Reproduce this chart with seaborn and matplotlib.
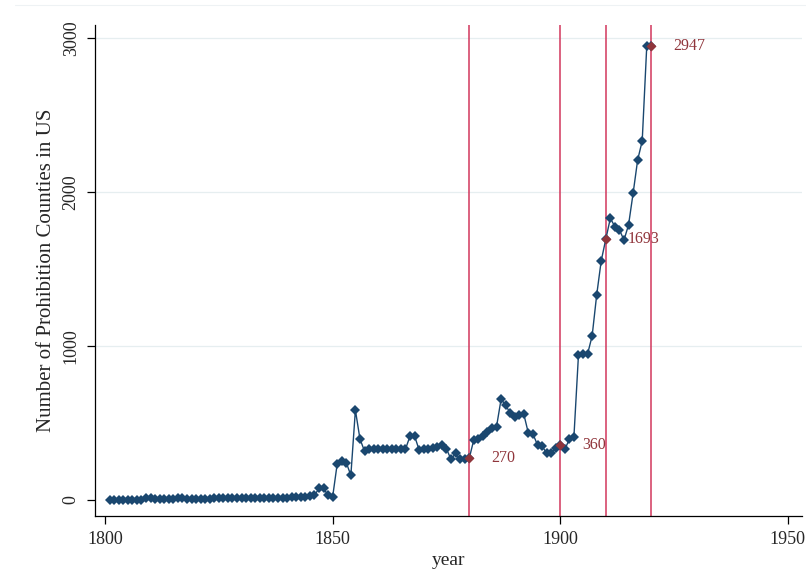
import numpy as np
import pandas as pd
import matplotlib
matplotlib.use("Agg")
import matplotlib.pyplot as plt
from matplotlib.lines import Line2D
import seaborn as sns

# Number of prohibition ("dry") counties in the US, 1801-1920
years = list(range(1801, 1921))
counties = [
    # 1801-1846
    2, 2, 2, 2, 2, 2, 2, 2, 15, 15,
    5, 5, 5, 5, 5, 12, 12, 5, 5, 5,
    8, 8, 8, 10, 10, 10, 10, 10, 10, 10,
    10, 10, 12, 15, 15, 15, 15, 15, 15, 15,
    18, 20, 20, 22, 25, 30,
    # 1847-1857
    75, 75, 30, 20, 234, 255, 242, 160, 584, 396, 318,
    # 1858-1868
    330, 330, 330, 330, 330, 330, 330, 330, 330, 415, 415,
    # 1869-1880
    325, 332, 332, 335, 345, 357, 332, 264, 303, 264, 264, 270,
    # 1881-1900
    390, 394, 416, 444, 465, 476, 654, 617, 563, 541,
    552, 556, 433, 429, 357, 351, 303, 307, 336, 360,
    # 1901-1920
    329, 394, 411, 942, 948, 948, 1065, 1331, 1554, 1693,
    1829, 1775, 1753, 1688, 1786, 1991, 2208, 2331, 2948, 2947,
]

# Reference years marked with vertical lines and labelled values
mark_years = [1880, 1900, 1910, 1920]
mark_values = [270, 360, 1693, 2947]

x_ticks = [1800, 1850, 1900, 1950]
y_ticks = [0, 1000, 2000, 3000]

df = pd.DataFrame({"year": years, "count": counties})
marks = pd.DataFrame({"year": mark_years, "count": mark_values})

sns.set_theme(style="white")
plt.rcParams["font.family"] = ["Liberation Serif", "DejaVu Serif"]

navy = "#1a476f"
maroon = "#90353b"
vline_col = "#d2375c"

fig = plt.figure(figsize=(8.06, 5.86), dpi=100)
ax = fig.add_axes([95 / 806, 70 / 586, 707 / 806, 491 / 586])

# light horizontal gridlines
for v in y_ticks[1:]:
    ax.axhline(v, color="#e6eef0", lw=0.9, zorder=0)

for yr in mark_years:
    ax.axvline(yr, color=vline_col, lw=1.1, zorder=1)

sns.lineplot(data=df, x="year", y="count", ax=ax, color=navy, lw=1.0,
             marker="D", markersize=4.8, markeredgewidth=0,
             markerfacecolor=navy, zorder=2)
sns.scatterplot(data=marks, x="year", y="count", ax=ax, color=maroon,
                marker="D", s=26, linewidth=0, zorder=3)

for yr, v in zip(mark_years, mark_values):
    ax.annotate(str(v), xy=(yr, v), xytext=(16, 0), textcoords="offset points",
                ha="left", va="center", color=maroon, fontsize=11.5)

ax.set_xlim(1797.8, 1953.1)
ax.set_ylim(-104, 3084)
ax.set_xticks(x_ticks)
ax.set_yticks(y_ticks)
ax.set_xticklabels([str(t) for t in x_ticks], fontsize=13)
ax.set_yticklabels([str(t) for t in y_ticks], fontsize=13, rotation=90,
                   va="center")
ax.tick_params(axis="both", direction="out", length=6, width=0.9,
               color="black", bottom=True, left=True, pad=5)
ax.set_xlabel("year", fontsize=14, labelpad=3)
ax.set_ylabel("Number of Prohibition Counties in US", fontsize=15,
              labelpad=5)

for side in ["top", "right"]:
    ax.spines[side].set_visible(False)
for side in ["left", "bottom"]:
    ax.spines[side].set_color("black")
    ax.spines[side].set_linewidth(0.9)

# faint outer frame line along the top
fig.add_artist(Line2D([15 / 806, 1.0], [1 - 5 / 586, 1 - 5 / 586],
                      color="#eef2f4", lw=0.8, transform=fig.transFigure))

fig.savefig("out.png", dpi=100)
